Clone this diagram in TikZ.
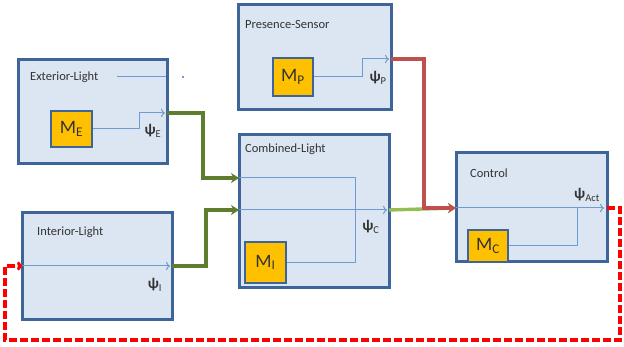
\documentclass[tikz,border=0pt]{standalone}
\usepackage{fontspec}
\setmainfont{Carlito}
\usetikzlibrary{arrows.meta}
\definecolor{boxfill}{HTML}{DCE6F2}
\definecolor{boxline}{HTML}{3E6599}
\definecolor{mfill}{HTML}{FFC000}
\definecolor{sigline}{HTML}{6E9BD2}
\definecolor{olivegreen}{HTML}{5E7D2E}
\definecolor{lightgreen}{HTML}{92C050}
\definecolor{darkred}{HTML}{C0504D}
\definecolor{txt}{HTML}{333333}
\tikzset{
  comp/.style={draw=boxline, line width=3pt, fill=boxfill, inner sep=0pt},
  model/.style={draw=boxline, line width=2pt, fill=mfill, inner sep=0pt,
    text=txt, font=\fontsize{19}{19}\selectfont},
  title/.style={anchor=west, text=txt, inner sep=0pt, font=\fontsize{12.5}{12.5}\selectfont},
  outlabel/.style={text=txt, inner sep=0pt, font=\fontsize{15}{15}\selectfont},
  sig/.style={sigline, line width=1pt},
  link/.style={olivegreen, line width=3.4pt, -{Stealth[length=8pt,width=10pt]}},
}
\newcommand{\psisub}[1]{{\bfseries ψ}\textsubscript{#1}}
\begin{document}
\begin{tikzpicture}[x=1pt, y=-1pt]
  \useasboundingbox (0,0) rectangle (624,347);
  % components
  \node[comp, minimum width=149pt, minimum height=104pt] (ext) at (92.5,112) {};
  \node[comp, minimum width=153pt, minimum height=105pt] (pres) at (314.5,57.5) {};
  \node[comp, minimum width=150pt, minimum height=153pt] (comb) at (314,211.5) {};
  \node[comp, minimum width=150pt, minimum height=107pt] (int) at (97,266.5) {};
  \node[comp, minimum width=151pt, minimum height=109pt] (ctl) at (531.5,207.5) {};
  % titles
  \node[title] (ext-t) at (30,77) {Exterior-Light};
  \node[title] (pres-t) at (245,24) {Presence-Sensor};
  \node[title] (comb-t) at (245,149) {Combined-Light};
  \node[title] (int-t) at (37,232) {Interior-Light};
  \node[title] (ctl-t) at (470,173) {Control};
  % ports
  \coordinate (ext-out) at (167,113);
  \coordinate (pres-out) at (391,59);
  \coordinate (comb-in1) at (239,178);
  \coordinate (comb-in2) at (239,210);
  \coordinate (comb-out) at (389,210);
  \coordinate (int-in) at (22,266);
  \coordinate (int-out) at (172,266);
  \coordinate (ctl-in) at (456,208);
  \coordinate (ctl-out) at (607,208);
  % models
  \node[model, minimum width=41pt, minimum height=36pt] (me) at (71.5,129) {M\textsubscript{E}};
  \node[model, minimum width=40pt, minimum height=38pt] (mp) at (293,77) {M\textsubscript{P}};
  \node[model, minimum width=41pt, minimum height=41pt] (mi) at (265.5,262.5) {M\textsubscript{I}};
  \node[model, minimum width=40pt, minimum height=32pt] (mc) at (488,246) {M\textsubscript{C}};
  % inner signals
  \draw[sig] (117,77) -- (166,77);
  \fill[sigline] (182,76) rectangle (184,78);
  \draw[sig, -{To[length=4pt]}] (me.east) -- (139,129) |- (165,113);
  \draw[sig, -{To[length=4pt]}] (mp.east) -- (362,77) |- (389,59);
  \draw[sig] (comb-in1) -- (355,178) |- (mi.east);
  \draw[sig, -{To[length=4pt]}] (comb-in2) -- (387,210);
  \draw[sig, -{To[length=4pt]}] (int-in) -- (170,266);
  \draw[sig, -{To[length=4pt]}] (ctl-in) -- (604,208);
  \draw[sig] (577,208) |- (mc.east);
  % outputs
  \node[outlabel] (psi-e) at (153,131) {\psisub{E}};
  \node[outlabel] (psi-p) at (378,78) {\psisub{P}};
  \node[outlabel] (psi-c) at (371,227) {\psisub{C}};
  \node[outlabel] (psi-i) at (155,285) {\psisub{I}};
  \node[outlabel] (psi-act) at (587,195) {\psisub{Act}};
  % links between components
  \draw[link] (ext-out) -- (203,113) |- (comb-in1);
  \draw[link] (int-out) -- (206,266) |- (comb-in2);
  \draw[link, lightgreen] (comb-out) -- (ctl-in);
  \draw[link, darkred] (pres-out) -- (424,59) |- (ctl-in);
  \draw[red, line width=3.2pt, dash pattern=on 8pt off 3pt, -{To[length=5pt,width=9pt]}]
    (ctl-out) -- (620,208) -- (620,340) -- (5,340) -- (5,266) -- (int-in);
\end{tikzpicture}
\end{document}
